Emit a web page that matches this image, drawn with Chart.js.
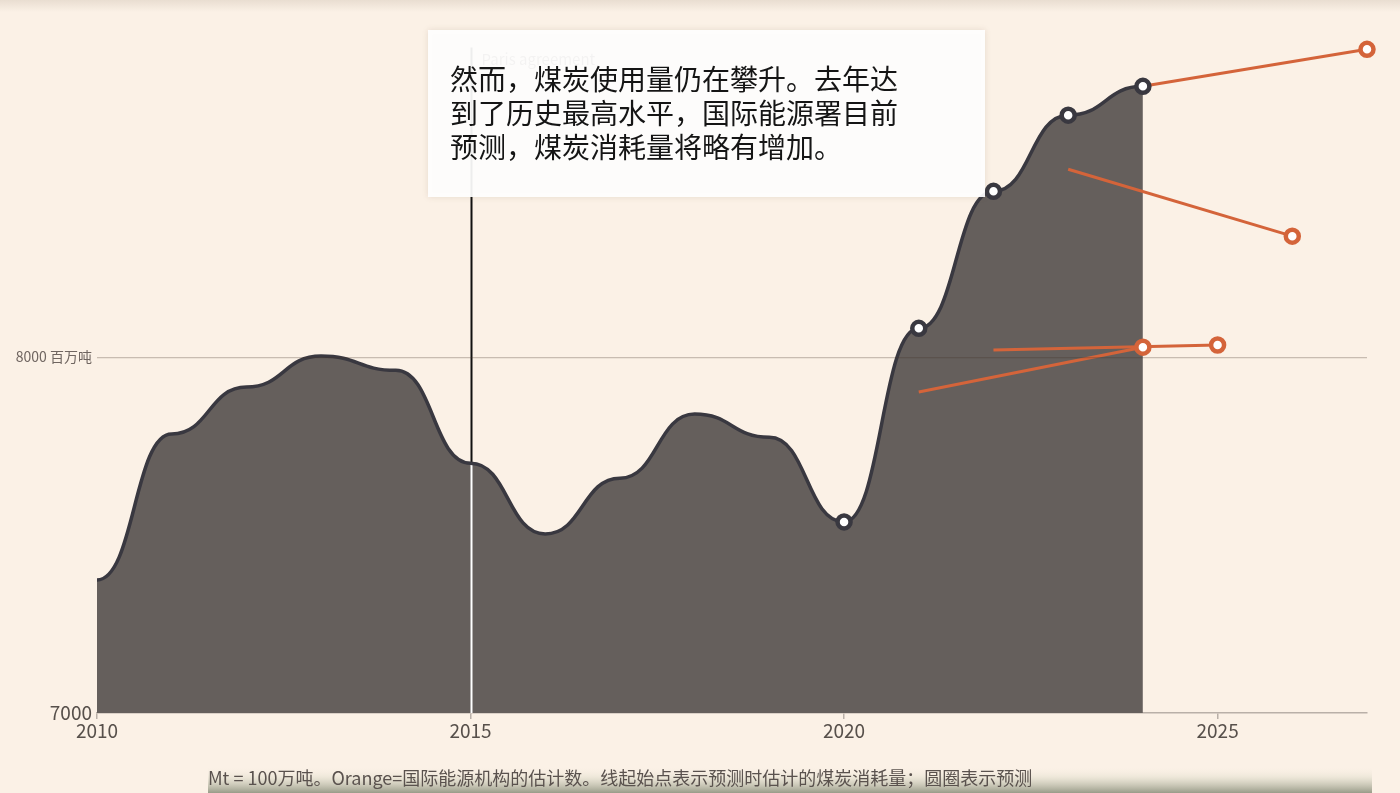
<!DOCTYPE html>
<html>
<head>
<meta charset="utf-8">
<script src="https://cdn.jsdelivr.net/npm/chart.js@4.4.1/dist/chart.umd.min.js"></script>
<style>
  html, body { margin: 0; padding: 0; background: #fbf1e6; }
  #wrap { width: 1400px; height: 793px; position: relative; }
</style>
</head>
<body>
<div id="wrap"><canvas id="chart" width="1400" height="793"></canvas></div>
<script>
// coal consumption, Mt
const years = [2010, 2011, 2012, 2013, 2014, 2015, 2016, 2017, 2018, 2019, 2020, 2021, 2022, 2023, 2024];
const coalUse = [7374, 7784, 7916, 8003, 7963, 7702, 7503, 7660, 7840, 7775, 7537, 8081, 8466, 8680, 8761];

// IEA forecasts: estimate at forecast time -> forecast
const fcStartYear = [2021, 2022, 2023, 2024];
const fcStartValue = [7902, 8020, 8528, 8761];
const fcEndYear = [2024, 2025, 2026, 2027];
const fcEndValue = [8028, 8034, 8340, 8865];

const xTicks = [2010, 2015, 2020, 2025];
const yTicks = [7000, 8000];
const yTickLabels = ['7000', '8000 百万吨'];

const parisYear = 2015;
const parisLabel = 'Paris agreement';
const parisTop = 8870;

const noteLines = ['然而，煤炭使用量仍在攀升。去年达', '到了历史最高水平，国际能源署目前', '预测，煤炭消耗量将略有增加。'];
const footnote = 'Mt = 100万吨。Orange=国际能源机构的估计数。线起始点表示预测时估计的煤炭消耗量；圆圈表示预测';

const FONT = "'Noto Sans CJK SC', 'Noto Sans', sans-serif";
const ORANGE = '#d4643a';
const DARK = '#393840';

let datasets = [{
    data: years.map((y, i) => ({ x: y, y: coalUse[i] })),
    borderColor: DARK,
    borderWidth: 3.5,
    backgroundColor: '#655f5c',
    fill: 'start',
    tension: 0.4,
    order: 0,
    pointRadius: ctx => ctx.dataIndex >= 10 ? 6.5 : 0,
    pointBorderWidth: 4.5,
    pointBorderColor: DARK,
    pointBackgroundColor: '#fff',
    clip: false
}];
fcStartYear.forEach((y, i) => {
    datasets.push({
        data: [{ x: y, y: fcStartValue[i] }, { x: fcEndYear[i], y: fcEndValue[i] }],
        borderColor: ORANGE,
        borderWidth: 3,
        fill: false,
        tension: 0,
        order: 1,
        pointRadius: [0, 6.5],
        pointBorderWidth: 4.5,
        pointBorderColor: ORANGE,
        pointBackgroundColor: '#fff',
        clip: false
    });
});

// flat tangent at every point (like d3 curveBumpX)
const bumpCurve = {
    id: 'bumpCurve',
    afterDatasetsUpdate: function (chart) {
        let meta = chart.getDatasetMeta(0);
        let pts = meta.data;
        pts.forEach((p, i) => {
            let prev = pts[i - 1] || p, next = pts[i + 1] || p;
            p.cp1x = p.x - (p.x - prev.x) / 2; p.cp1y = p.y;
            p.cp2x = p.x + (next.x - p.x) / 2; p.cp2y = p.y;
        });
        meta.dataset._pointsUpdated = true;
    }
};

const decor = {
    id: 'decor',
    beforeDraw: function (chart) {
        let ctx = chart.ctx;
        ctx.save();
        ctx.fillStyle = '#fbf1e6';
        ctx.fillRect(0, 0, chart.width, chart.height);
        let g = ctx.createLinearGradient(0, 0, 0, 12);
        g.addColorStop(0, 'rgba(200,185,170,0.35)');
        g.addColorStop(1, 'rgba(200,185,170,0)');
        ctx.fillStyle = g;
        ctx.fillRect(0, 0, chart.width, 12);
        ctx.restore();
    },
    beforeDatasetsDraw: function (chart) {
        let ctx = chart.ctx, xs = chart.scales.x, ys = chart.scales.y;
        let x = Math.round(xs.getPixelForValue(parisYear)) + 0.5;
        let yCurve = ys.getPixelForValue(coalUse[years.indexOf(parisYear)]);
        ctx.save();
        ctx.lineWidth = 2;
        ctx.strokeStyle = '#111';
        ctx.beginPath();
        ctx.moveTo(x, ys.getPixelForValue(parisTop));
        ctx.lineTo(x, yCurve);
        ctx.stroke();
        ctx.strokeStyle = '#fff';
        ctx.beginPath();
        ctx.moveTo(x, yCurve);
        ctx.lineTo(x, ys.bottom);
        ctx.stroke();
        ctx.fillStyle = '#6b625d';
        ctx.font = '15px ' + FONT;
        ctx.textBaseline = 'middle';
        ctx.fillText(parisLabel, x + 10, ys.getPixelForValue(parisTop) + 12);
        ctx.restore();
    },
    afterDraw: function (chart) {
        let ctx = chart.ctx;
        ctx.save();
        // note box
        ctx.shadowColor = 'rgba(120,100,80,0.18)';
        ctx.shadowBlur = 6;
        ctx.fillStyle = 'rgba(255,255,255,0.92)';
        ctx.fillRect(428, 30, 557, 167);
        ctx.shadowColor = 'transparent';
        ctx.fillStyle = '#151515';
        ctx.font = '28px ' + FONT;
        ctx.textBaseline = 'middle';
        noteLines.forEach((t, i) => ctx.fillText(t, 450, 79 + i * 34));
        // footnote band
        let g = ctx.createLinearGradient(0, 766, 0, 793);
        g.addColorStop(0, 'rgba(251,241,230,0)');
        g.addColorStop(0.4, 'rgba(225,222,205,0.5)');
        g.addColorStop(1, 'rgba(135,140,120,0.85)');
        ctx.fillStyle = g;
        ctx.fillRect(208, 766, 1164, 27);
        ctx.fillStyle = '#5a524e';
        ctx.font = '18px ' + FONT;
        ctx.fillText(footnote, 208, 778);
        ctx.restore();
    }
};

new Chart(document.getElementById('chart'), {
    type: 'line',
    data: { datasets: datasets },
    options: {
        responsive: false,
        animation: false,
        devicePixelRatio: 1,
        layout: { padding: { top: 1, right: 33, left: 0, bottom: 0 } },
        plugins: {
            legend: { display: false },
            tooltip: { enabled: false },
            filler: { drawTime: 'beforeDatasetsDraw' }
        },
        scales: {
            x: {
                type: 'linear',
                min: 2010,
                max: 2027,
                afterBuildTicks: s => { s.ticks = xTicks.map(v => ({ value: v })); },
                afterFit: s => { s.height = 80; },
                grid: { drawOnChartArea: false, drawTicks: true, tickLength: 6, color: '#b9b0a8', lineWidth: 1.5 },
                border: { color: '#b9b0a8', width: 1.5 },
                ticks: { font: { family: FONT, size: 19 }, color: '#57504b', padding: 0, maxRotation: 0, callback: v => String(v) }
            },
            y: {
                min: 7000,
                max: 8966,
                afterBuildTicks: s => { s.ticks = yTicks.map(v => ({ value: v })); },
                afterFit: s => { s.width = 97; },
                grid: { z: 1, drawTicks: false, color: ctx => ctx.tick && ctx.tick.value === 8000 ? 'rgba(70,50,40,0.28)' : 'transparent', lineWidth: 1.2 },
                border: { display: false },
                ticks: {
                    padding: 5,
                    font: ctx => ({ family: FONT, size: ctx.tick && ctx.tick.value === 8000 ? 14 : 19 }),
                    color: ctx => ctx.tick && ctx.tick.value === 8000 ? '#6f6560' : '#57504b',
                    callback: v => yTickLabels[yTicks.indexOf(v)]
                }
            }
        }
    },
    plugins: [bumpCurve, decor]
});
</script>
</body>
</html>
